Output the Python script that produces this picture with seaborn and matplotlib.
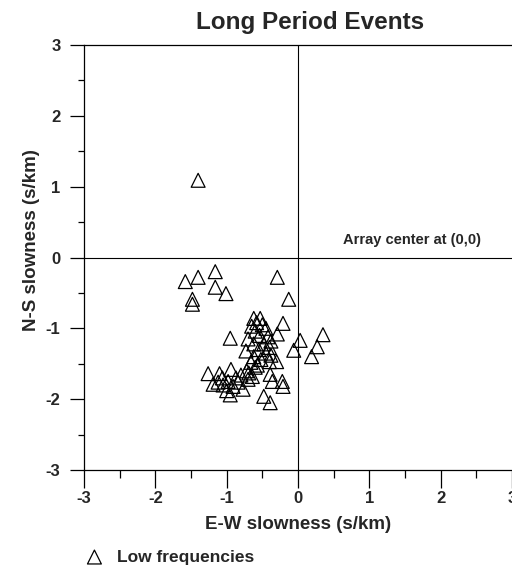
import matplotlib
matplotlib.use("Agg")
import matplotlib.pyplot as plt
from matplotlib.ticker import MultipleLocator
import seaborn as sns
import pandas as pd

# Apparent slowness of long-period events (s/km)
ew_slowness = [
    -1.40, -1.58, -1.40, -1.16, -1.16, -1.01, -1.48, -1.48, -0.29, -0.13,
    -0.21, -0.95, 0.03, 0.35, 0.27, 0.19, -0.06, -0.29,
    -0.62, -0.53, -0.58, -0.50, -0.65, -0.45, -0.60, -0.54, -0.42, -0.70,
    -0.38, -0.62, -0.48, -0.40, -0.55, -0.73, -0.45, -0.38, -0.62, -0.52,
    -0.66, -0.40, -0.30, -0.57, -0.72,
    -1.26, -1.10, -0.94, -1.19, -1.12, -1.05, -0.98, -0.91, -0.84, -0.77,
    -0.95, -1.00, -0.87, -0.80, -0.69, -0.70, -0.60, -0.64, -1.06,
    -0.39, -0.36, -0.22, -0.21, -0.48, -0.39,
]
ns_slowness = [
    1.09, -0.34, -0.28, -0.20, -0.42, -0.51, -0.59, -0.66, -0.28, -0.59,
    -0.93, -1.14, -1.17, -1.09, -1.26, -1.40, -1.31, -1.08,
    -0.86, -0.86, -0.92, -0.95, -0.97, -1.00, -1.04, -1.10, -1.12, -1.15,
    -1.18, -1.22, -1.22, -1.27, -1.30, -1.32, -1.35, -1.38, -1.40, -1.44,
    -1.48, -1.47, -1.47, -1.52, -1.60,
    -1.64, -1.64, -1.58, -1.79, -1.76, -1.80, -1.75, -1.82, -1.76, -1.86,
    -1.94, -1.88, -1.70, -1.66, -1.63, -1.72, -1.55, -1.68, -1.70,
    -1.65, -1.75, -1.75, -1.82, -1.96, -2.05,
]
tick_values = [-3, -2, -1, 0, 1, 2, 3]
series_label = "Low frequencies"

df = pd.DataFrame({"ew": ew_slowness, "ns": ns_slowness})

sns.set_theme(style="ticks")
plt.rcParams["font.family"] = ["Liberation Sans", "DejaVu Sans"]
plt.rcParams["font.weight"] = "bold"
plt.rcParams["axes.unicode_minus"] = False

fig = plt.figure(figsize=(5.12, 5.67), dpi=100)
ax = fig.add_axes([84 / 512, 1 - 470 / 567, 1 - 84 / 512, (470 - 45) / 567])

ax.axhline(0, color="black", lw=0.8, zorder=1)
ax.axvline(0, color="black", lw=0.8, zorder=1)

sns.scatterplot(data=df, x="ew", y="ns", marker="^", s=100,
                facecolor="none", edgecolor="black", linewidth=0.9,
                label=series_label, ax=ax, zorder=3, clip_on=False)

ax.set_xlim(-3, 3)
ax.set_ylim(-3, 3)
ax.set_xticks(tick_values)
ax.set_yticks(tick_values)
ax.xaxis.set_minor_locator(MultipleLocator(0.5))
ax.yaxis.set_minor_locator(MultipleLocator(0.5))
ax.tick_params(axis="x", which="major", length=13, width=0.9, pad=2,
               labelsize=12, color="black")
ax.tick_params(axis="x", which="minor", length=6, width=0.9, color="black")
ax.tick_params(axis="y", which="major", length=10, width=0.9, pad=7,
               labelsize=12, color="black")
ax.tick_params(axis="y", which="minor", length=4.5, width=0.9, color="black")
for lab in ax.get_xticklabels() + ax.get_yticklabels():
    lab.set_fontweight("bold")

for side in ["left", "bottom", "top"]:
    ax.spines[side].set_color("black")
    ax.spines[side].set_linewidth(0.9)
ax.spines["right"].set_visible(False)

ax.set_xlabel("E-W slowness (s/km)", fontsize=13.5, fontweight="bold", labelpad=7)
ax.set_ylabel("N-S slowness (s/km)", fontsize=13.5, fontweight="bold")
ax.yaxis.set_label_coords(-0.103, 0.54)

ax.text(0.63, 0.25, "Array center at (0,0)", fontsize=10.5, fontweight="bold",
        ha="left", va="center", zorder=4)

fig.text(310 / 512, 1 - 22 / 567, "Long Period Events", ha="center", va="center",
         fontsize=17.5, fontweight="bold")

leg = ax.legend(loc="center left", bbox_to_anchor=(84 / 512, 1 - 557 / 567),
                bbox_transform=fig.transFigure, frameon=False,
                handlelength=1.2, handletextpad=0.7, borderpad=0,
                borderaxespad=0, prop={"size": 12.5, "weight": "bold"})

fig.savefig("out.png", dpi=100)
